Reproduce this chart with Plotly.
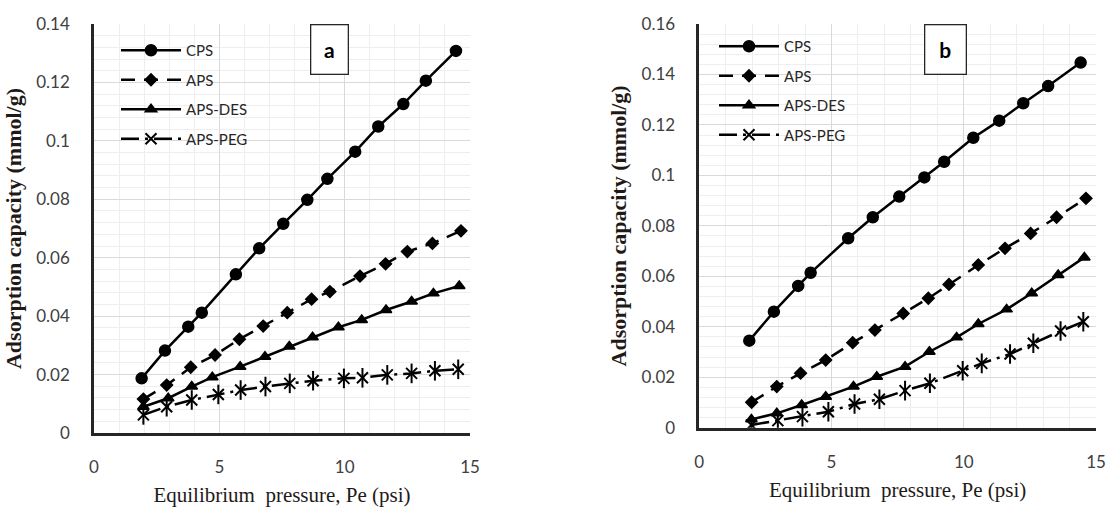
import plotly.graph_objects as go

# ---------------- data ----------------
series_names = ["CPS", "APS", "APS-DES", "APS-PEG"]

a_cps_x = [1.90, 2.83, 3.76, 4.30, 5.66, 6.59, 7.55, 8.51, 9.31, 10.42, 11.34, 12.34, 13.24, 14.44]
a_cps_y = [0.0187, 0.0282, 0.0364, 0.0412, 0.0543, 0.0632, 0.0716, 0.0798, 0.0870, 0.0963, 0.1049, 0.1126, 0.1206, 0.1308]
a_aps_x = [1.97, 2.90, 3.86, 4.83, 5.80, 6.75, 7.71, 8.68, 9.41, 10.61, 11.63, 12.50, 13.50, 14.64]
a_aps_y = [0.0116, 0.0164, 0.0225, 0.0267, 0.0321, 0.0366, 0.0412, 0.0458, 0.0484, 0.0537, 0.0579, 0.0621, 0.0649, 0.0692]
a_des_x = [1.97, 2.96, 3.90, 4.72, 5.83, 6.82, 7.79, 8.72, 9.75, 10.68, 11.65, 12.67, 13.54, 14.57]
a_des_y = [0.0090, 0.0119, 0.0159, 0.0191, 0.0227, 0.0261, 0.0296, 0.0328, 0.0362, 0.0387, 0.0421, 0.0450, 0.0478, 0.0503]
a_peg_x = [1.97, 2.90, 3.90, 4.96, 5.85, 6.84, 7.81, 8.74, 9.97, 10.71, 11.70, 12.67, 13.60, 14.53]
a_peg_y = [0.0062, 0.0090, 0.0113, 0.0132, 0.0147, 0.0159, 0.0170, 0.0179, 0.0187, 0.0189, 0.0199, 0.0204, 0.0213, 0.0218]

b_cps_x = [1.89, 2.82, 3.74, 4.21, 5.63, 6.56, 7.56, 8.51, 9.26, 10.36, 11.34, 12.25, 13.19, 14.42]
b_cps_y = [0.0345, 0.0460, 0.0562, 0.0614, 0.0751, 0.0834, 0.0916, 0.0992, 0.1054, 0.1149, 0.1217, 0.1286, 0.1354, 0.1447]
b_aps_x = [1.98, 2.93, 3.83, 4.78, 5.80, 6.64, 7.71, 8.66, 9.44, 10.55, 11.56, 12.53, 13.51, 14.62]
b_aps_y = [0.0101, 0.0163, 0.0216, 0.0268, 0.0337, 0.0387, 0.0453, 0.0513, 0.0568, 0.0645, 0.0711, 0.0770, 0.0834, 0.0909]
b_des_x = [1.97, 2.93, 3.87, 4.78, 5.83, 6.71, 7.78, 8.70, 9.73, 10.55, 11.62, 12.57, 13.57, 14.56]
b_des_y = [0.0033, 0.0057, 0.0090, 0.0123, 0.0163, 0.0202, 0.0242, 0.0301, 0.0358, 0.0411, 0.0469, 0.0533, 0.0605, 0.0675]
b_peg_x = [1.97, 2.97, 3.90, 4.88, 5.87, 6.81, 7.78, 8.72, 9.96, 10.68, 11.75, 12.63, 13.66, 14.52]
b_peg_y = [0.0011, 0.0028, 0.0044, 0.0063, 0.0094, 0.0113, 0.0147, 0.0176, 0.0226, 0.0255, 0.0292, 0.0335, 0.0383, 0.0420]

x_ticks = [0, 5, 10, 15]
a_y_ticks = [0, 0.02, 0.04, 0.06, 0.08, 0.1, 0.12, 0.14]
b_y_ticks = [0, 0.02, 0.04, 0.06, 0.08, 0.1, 0.12, 0.14, 0.16]
panel_labels = ["a", "b"]
x_title = "Equilibrium  pressure, Pe (psi)"
y_title = "Adsorption capacity (mmol/g)"

# ---------------- styles ----------------
styles = {
    "CPS": dict(symbol="circle", size=11, dash="solid", lw=1.5),
    "APS": dict(symbol="diamond", size=9, dash="14px,9px", lw=1.5),
    "APS-DES": dict(symbol="triangle-up", size=10, dash="solid", lw=1.5),
    "APS-PEG": dict(symbol="x-thin-open", size=11, dash="18px,6px,3px,6px", lw=2),
}

# the page body margin is removed by a post script, so the figure fills the window
W, H = 1112, 515


def px(x):
    return x / W


def py(y):
    return (H - y) / H


fig = go.Figure()

panels = [
    ("x", "y", "legend", [(a_cps_x, a_cps_y), (a_aps_x, a_aps_y), (a_des_x, a_des_y), (a_peg_x, a_peg_y)]),
    ("x2", "y2", "legend2", [(b_cps_x, b_cps_y), (b_aps_x, b_aps_y), (b_des_x, b_des_y), (b_peg_x, b_peg_y)]),
]

for xa, ya, leg, data in panels:
    for name, (xs, ys) in zip(series_names, data):
        st = styles[name]
        fig.add_trace(go.Scatter(
            x=xs, y=ys, name=name, mode="lines+markers",
            xaxis=xa, yaxis=ya, legend=leg, legendgroup=leg + name,
            line=dict(color="black", width=2.5, dash=st["dash"]),
            marker=dict(symbol=st["symbol"], size=st["size"], color="black",
                        line=dict(color="black", width=st["lw"])),
        ))
        if name == "APS-PEG":
            # vertical stroke completing the six-armed asterisk marker
            fig.add_trace(go.Scatter(
                x=xs, y=ys, name=name, mode="markers", showlegend=False,
                xaxis=xa, yaxis=ya, legend=leg, legendgroup=leg + name,
                marker=dict(symbol="line-ns-open", size=14, color="black",
                            line=dict(color="black", width=2)),
                hoverinfo="skip",
            ))

tick_font = dict(family="Lato, Open Sans, sans-serif", size=17, color="#404040")
xt_font = dict(family="Liberation Serif, serif", size=21, color="#1f1a17")
yt_font = dict(family="Liberation Serif, serif", size=22, color="#1f1a17", weight="bold")


def xaxis(domain, anchor):
    return dict(domain=domain, anchor=anchor, range=[0, 15], tickvals=x_ticks,
                automargin=False, ticklabeloverflow="allow",
                showgrid=True, gridcolor="#d9d9d9", gridwidth=1.3,
                minor=dict(dtick=1, showgrid=True, gridcolor="#eeeeee", gridwidth=1),
                showline=True, linecolor="#262626", linewidth=2.5,
                zeroline=False, ticks="", ticklabelstandoff=17, tickfont=tick_font,
                title=dict(text=x_title, font=xt_font, standoff=12), fixedrange=True)


def yaxis(domain, anchor, rng, tv):
    return dict(domain=domain, anchor=anchor, range=rng, tickvals=tv,
                automargin=False, ticklabeloverflow="allow",
                ticktext=[("0" if v == 0 else f"{v:g}") for v in tv],
                showgrid=True, gridcolor="#d9d9d9", gridwidth=1.3,
                minor=dict(dtick=0.004, showgrid=True, gridcolor="#eeeeee", gridwidth=1),
                showline=True, linecolor="#262626", linewidth=2.5,
                zeroline=False, ticks="", ticklabelstandoff=18, tickfont=tick_font,
                title=dict(text=y_title, font=yt_font, standoff=9), fixedrange=True)


legend_common = dict(font=dict(family="Lato, Open Sans, sans-serif", size=15, color="#262626"),
                     bgcolor="rgba(255,255,255,0)", borderwidth=0, itemwidth=60,
                     tracegroupgap=7, xanchor="left", yanchor="top", traceorder="grouped")

fig.update_layout(
    template="none",
    width=W, height=H, margin=dict(l=0, r=0, t=0, b=0, autoexpand=False),
    plot_bgcolor="white", paper_bgcolor="white",
    xaxis=xaxis([px(94), px(470)], "y"),
    yaxis=yaxis([py(433), py(24)], "x", [0, 0.14], a_y_ticks),
    xaxis2=xaxis([px(699.3), px(1096)], "y2"),
    yaxis2=yaxis([py(427.7), py(24)], "x2", [0, 0.16], b_y_ticks),
    legend=dict(x=px(116), y=py(34), **legend_common),
    legend2=dict(x=px(714), y=py(30), **legend_common),
    showlegend=True,
    annotations=[
        dict(text=panel_labels[0], x=px(329), y=py(50), xref="paper", yref="paper",
             xanchor="center", yanchor="middle",
             showarrow=False, width=34, height=46, bordercolor="#262626", borderwidth=1.3,
             bgcolor="white", font=dict(family="Lato, sans-serif", size=21, color="black", weight="bold")),
        dict(text=panel_labels[1], x=px(945), y=py(50), xref="paper", yref="paper",
             xanchor="center", yanchor="middle",
             showarrow=False, width=38, height=46, bordercolor="#262626", borderwidth=1.3,
             bgcolor="white", font=dict(family="Lato, sans-serif", size=21, color="black", weight="bold")),
    ],
)

fig.write_html(
    "out.html",
    config={"displayModeBar": False},
    post_script="document.body.style.margin='0';document.body.style.overflow='hidden';",
)
